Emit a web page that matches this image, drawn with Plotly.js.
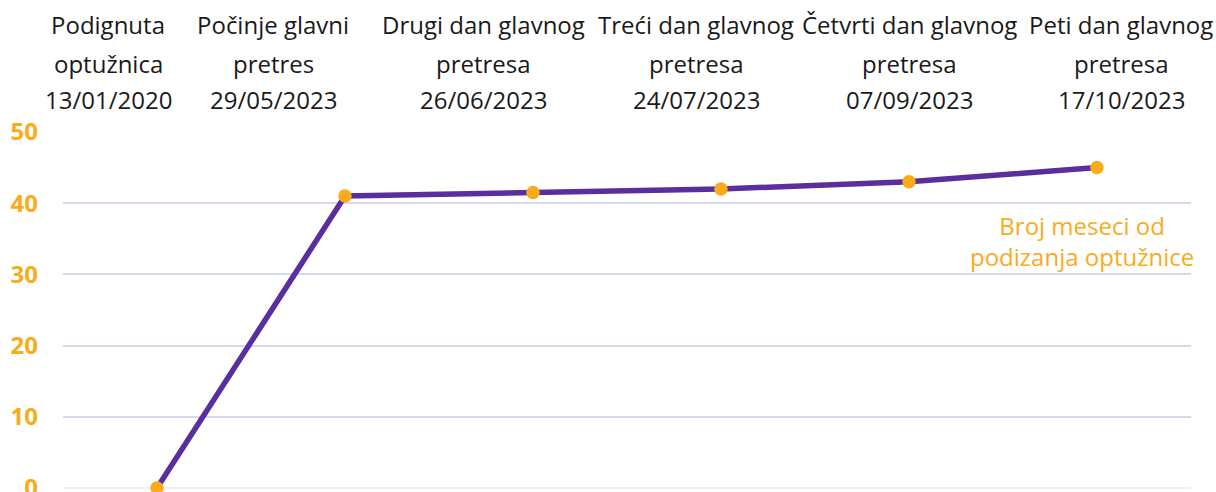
<!DOCTYPE html>
<html>
<head>
<meta charset="utf-8">
<script src="https://cdn.plot.ly/plotly-3.0.1.min.js"></script>
<style>html,body{margin:0;padding:0;background:#fff;}#chart{width:1216px;height:492px;}</style>
</head>
<body>
<div id="chart"></div>
<script>
const eventLine1 = ["Podignuta", "Počinje glavni", "Drugi dan glavnog", "Treći dan glavnog", "Četvrti dan glavnog", "Peti dan glavnog"];
const eventLine2 = ["optužnica", "pretres", "pretresa", "pretresa", "pretresa", "pretresa"];
const eventDates = ["13/01/2020", "29/05/2023", "26/06/2023", "24/07/2023", "07/09/2023", "17/10/2023"];
const monthsSinceIndictment = [0, 41, 41.5, 42, 43, 45];
const seriesName = "Broj meseci od<br>podizanja optužnice";
const yTicks = [0, 10, 20, 30, 40, 50];

const categories = eventDates.map((d, i) => i);
const orange = "#F9AB1B";
const purple = "#5A2E9E";
const font = "Open Sans, sans-serif";

// layout: header label centre positions (fraction of plot width)
const plotL = 63, plotW = 1128;
const headerPx = [108, 273, 483, 696, 909, 1121];
const headerX = headerPx.map(p => (p - plotL) / plotW);

const trace = {
  x: categories,
  y: monthsSinceIndictment,
  type: "scatter",
  mode: "lines+markers",
  line: {color: purple, width: 5.5},
  marker: {color: orange, size: 13.5},
  cliponaxis: false,
  hoverinfo: "none"
};

const annotations = [];
const rowY = [1.3006, 1.1938, 1.0899];
const rows = [eventLine1, eventLine2, eventDates];
rows.forEach((row, r) => {
  row.forEach((t, i) => {
    annotations.push({
      x: headerX[i], xref: "paper", y: rowY[r], yref: "paper",
      text: t, showarrow: false, xanchor: "center", yanchor: "middle",
      font: {family: font, size: 24, color: "#1a1a1a"}
    });
  });
});
annotations.push({
  x: 4.92, xref: "x", y: 34.7, yref: "y",
  text: seriesName, showarrow: false, xanchor: "center", yanchor: "middle",
  align: "center",
  font: {family: font, size: 24, color: orange}
});

const layout = {
  width: 1216, height: 492,
  margin: {l: 63, r: 25, t: 132, b: 4},
  paper_bgcolor: "#fff", plot_bgcolor: "#fff",
  showlegend: false,
  font: {family: font},
  xaxis: {
    type: "linear",
    range: [-0.5, 5.5],
    showgrid: false, zeroline: false, showticklabels: false, showline: false
  },
  yaxis: {
    range: [0, 50],
    tickvals: yTicks,
    ticktext: yTicks.map(String),
    showgrid: true, gridcolor: "#D5D8EE", gridwidth: 2,
    zeroline: true, zerolinecolor: "#EEF0F8", zerolinewidth: 2,
    showline: false,
    tickfont: {family: font, size: 24, color: orange, weight: "bold"},
    ticklabelstandoff: 24,
    ticklabeloverflow: "allow"
  },
  annotations: annotations
};

Plotly.newPlot("chart", [trace], layout, {staticPlot: true, displayModeBar: false});
</script>
</body>
</html>
